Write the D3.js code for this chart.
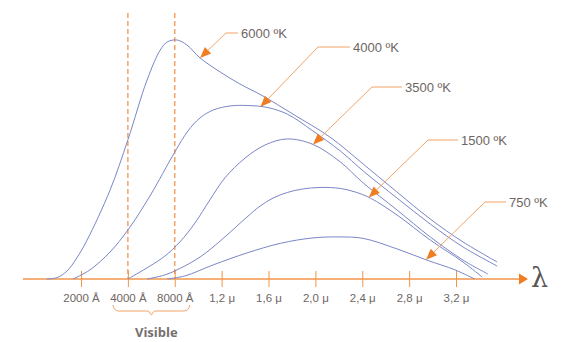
<!DOCTYPE html>
<html>
<head>
<meta charset="utf-8">
<script src="https://cdn.jsdelivr.net/npm/d3@7"></script>
<style>
  html, body { margin: 0; padding: 0; background: #fff; }
  svg { display: block; }
</style>
</head>
<body>
<svg id="chart" width="581" height="342"></svg>
<script>
// Wavelength axis: tick labels at evenly spaced positions (index units)
const tickLabels = ["2000 Å", "4000 Å", "8000 Å", "1,2 μ", "1,6 μ", "2,0 μ", "2,4 μ", "2,8 μ", "3,2 μ"];
const visibleTicks = [1, 2]; // 4000 Å and 8000 Å bound the visible band

// Blackbody curves: [axis position, relative intensity]
const curve6000 = [[-0.73,0],[-0.51,0.6],[-0.3,3.3],[-0.09,8.8],[0.13,16.3],[0.62,37.2],[1.0,58.2],[1.41,83.3],[1.69,95.8],[1.84,99.2],[2.05,100],[2.26,97.9],[2.54,92.5],[2.97,86.6],[3.39,81.6],[3.88,76.6],[4.52,69.0],[5.31,59.4],[6.02,48.1],[6.74,36.4],[7.45,25.1],[8.15,15.5],[8.88,7.1]];
const curve4000 = [[-0.17,0],[0.19,3.8],[0.62,11.3],[1.0,20.5],[1.47,34.7],[2.0,53.1],[2.28,61.9],[2.54,67.4],[2.82,70.7],[3.18,72.4],[3.54,72.6],[3.97,71.8],[4.4,69.0],[4.95,61.9],[5.53,53.6],[6.02,45.2],[6.74,33.9],[7.45,23.0],[8.15,13.4],[8.88,5.4]];
const curve3500 = [[1.0,0],[1.47,5.4],[1.79,9.6],[2.11,15.5],[2.43,23.4],[2.75,33.1],[3.07,42.3],[3.5,50.6],[3.93,56.1],[4.4,58.6],[4.95,56.3],[5.53,49.0],[6.02,40.2],[6.74,28.9],[7.45,17.6],[8.15,7.9],[8.68,2.1]];
const curve1500 = [[1.41,0],[1.79,1.7],[2.11,4.4],[2.54,9.2],[2.97,15.9],[3.54,25.9],[3.82,30.5],[4.1,33.9],[4.4,36.2],[4.74,37.7],[5.1,38.3],[5.53,37.9],[5.85,36.4],[6.17,33.9],[6.74,26.8],[7.45,16.3],[8.15,7.1],[8.56,0.8]];
const curve750  = [[1.84,0],[2.22,1.3],[2.82,5.9],[3.54,10.9],[4.25,14.9],[4.95,17.2],[5.53,17.6],[6.02,17.0],[6.74,12.6],[7.38,7.9],[7.98,3.8],[8.4,0]];

const seriesNames = ["6000 ºK", "4000 ºK", "3500 ºK", "1500 ºK", "750 ºK"];
const seriesValues = [curve6000, curve4000, curve3500, curve1500, curve750];

// Callout layout: where each arrow touches its curve, the elbow and the label
const callouts = [
  { series: 0, at: 2.54, elbow: [226, 33], barEnd: 238 },
  { series: 1, at: 3.83, elbow: [318, 47], barEnd: 350 },
  { series: 2, at: 4.95, elbow: [372, 87], barEnd: 402 },
  { series: 3, at: 6.14, elbow: [428, 140], barEnd: 458 },
  { series: 4, at: 7.36, elbow: [485, 202], barEnd: 506 }
];

const svg = d3.select("#chart");
const x = d3.scaleLinear().domain([0, 8]).range([81, 456]);
const y = d3.scaleLinear().domain([0, 100]).range([279, 40]);

const textColor = "#6e6663";
const curveColor = "#7b86c6";
const lightOrange = "#f5b07a";
const orange = "#ef7d22";

// Dashed boundaries of the visible band
svg.selectAll("line.band")
  .data(visibleTicks)
  .join("line")
  .attr("class", "band")
  .attr("x1", d => x(d)).attr("x2", d => x(d))
  .attr("y1", 13).attr("y2", y(0))
  .attr("stroke", "#f3a467")
  .attr("stroke-width", 1.5)
  .attr("stroke-dasharray", "5,3");

// Horizontal axis line with arrow
const axisStart = x.invert(23), axisEnd = x.invert(520);
svg.append("line")
  .attr("x1", x(axisStart)).attr("x2", x(axisEnd))
  .attr("y1", y(0)).attr("y2", y(0))
  .attr("stroke", lightOrange).attr("stroke-width", 2);
svg.append("path")
  .attr("d", `M${x(axisEnd) - 1},${y(0) - 5.5} L${x(axisEnd) + 8},${y(0)} L${x(axisEnd) - 1},${y(0) + 5.5} Z`)
  .attr("fill", orange);
svg.append("text")
  .attr("x", 531).attr("y", 287)
  .attr("font-family", "DejaVu Serif, serif")
  .attr("font-size", 27)
  .attr("fill", "#5b5655")
  .text("λ");

// Ticks and labels
const axis = d3.axisBottom(x)
  .tickValues(d3.range(tickLabels.length))
  .tickFormat(i => tickLabels[i])
  .tickSize(8);
const gAxis = svg.append("g")
  .attr("transform", `translate(0,${y(0)})`)
  .call(axis);
gAxis.select(".domain").remove();
gAxis.selectAll(".tick line")
  .attr("y1", -8).attr("y2", 8)
  .attr("stroke", "#f39547").attr("stroke-width", 1);
gAxis.selectAll(".tick text")
  .attr("y", 23).attr("dy", null)
  .attr("font-family", "Liberation Sans, Arial, sans-serif")
  .attr("font-size", 11.5)
  .attr("fill", textColor);

// Curves
const line = d3.line()
  .x(d => x(d[0]))
  .y(d => y(d[1]))
  .curve(d3.curveCatmullRom.alpha(0.5));
svg.selectAll("path.curve")
  .data(seriesValues)
  .join("path")
  .attr("class", "curve")
  .attr("d", line)
  .attr("fill", "none")
  .attr("stroke", curveColor)
  .attr("stroke-width", 1);

// Value of a curve at an axis position (linear between points)
function valueAt(points, p) {
  for (let i = 1; i < points.length; i++) {
    if (points[i][0] >= p) {
      const [x0, y0] = points[i - 1], [x1, y1] = points[i];
      return y0 + (y1 - y0) * (p - x0) / (x1 - x0);
    }
  }
  return points[points.length - 1][1];
}

// Callouts: leader line, arrowhead on the curve, temperature label
callouts.forEach(c => {
  const tx = x(c.at), ty = y(valueAt(seriesValues[c.series], c.at));
  const [ex, ey] = c.elbow;
  const dx = tx - ex, dy = ty - ey, len = Math.hypot(dx, dy);
  const ux = dx / len, uy = dy / len;
  const headLen = 11, headHalf = 4.5;
  const bx = tx - ux * headLen, by = ty - uy * headLen;

  svg.append("polyline")
    .attr("points", `${c.barEnd},${ey} ${ex},${ey} ${bx},${by}`)
    .attr("fill", "none")
    .attr("stroke", "#f4a466")
    .attr("stroke-width", 1);
  svg.append("path")
    .attr("d", `M${tx},${ty} L${bx - uy * headHalf},${by + ux * headHalf} L${bx + uy * headHalf},${by - ux * headHalf} Z`)
    .attr("fill", orange);
  svg.append("text")
    .attr("x", c.barEnd + 3).attr("y", ey + 4.5)
    .attr("font-family", "Liberation Sans, Arial, sans-serif")
    .attr("font-size", 13)
    .attr("fill", textColor)
    .text(seriesNames[c.series]);
});

// Brace under the visible band
const bl = x(visibleTicks[0]) - 15, br = x(visibleTicks[1]) + 15;
const bm = (x(visibleTicks[0]) + x(visibleTicks[1])) / 2;
const bt = 305, bb = 311;
svg.append("path")
  .attr("d", `M${bl},${bt} Q${bl + 1},${bb} ${bl + 6},${bb} L${bm - 3},${bb} L${bm},${bb + 4} L${bm + 3},${bb} L${br - 6},${bb} Q${br - 1},${bb} ${br},${bt}`)
  .attr("fill", "none")
  .attr("stroke", "#f3a467")
  .attr("stroke-width", 1);
svg.append("text")
  .attr("x", bm + 5).attr("y", 337)
  .attr("text-anchor", "middle")
  .attr("font-family", "Open Sans, sans-serif")
  .attr("font-weight", "bold")
  .attr("font-size", 13)
  .attr("fill", "#75716f")
  .text("Visible");
</script>
</body>
</html>
